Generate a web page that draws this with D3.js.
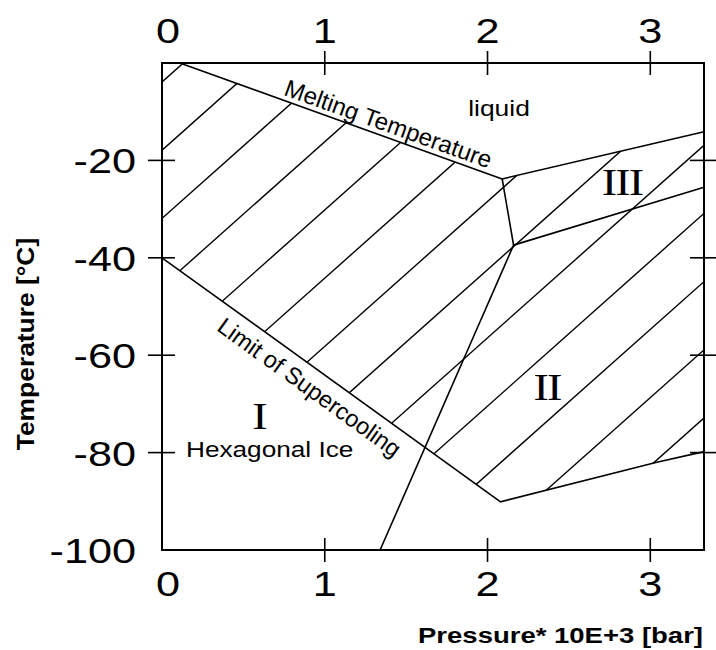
<!DOCTYPE html>
<html>
<head>
<meta charset="utf-8">
<script src="https://cdn.jsdelivr.net/npm/d3@7"></script>
<style>
  body { margin: 0; background: #fff; }
  text { font-family: "Liberation Sans", Arial, sans-serif; fill: #000; }
</style>
</head>
<body>
<div id="chart"></div>
<script>
var width = 716;
var height = 650;

// axis ticks
var xTicks = [0, 1, 2, 3];
var yTicks = [-20, -40, -60, -80, -100];
var xInnerTicks = [1, 2, 3];
var yInnerTicks = [-20, -40, -60, -80];

// phase boundaries, [pressure kbar, temperature C]
var meltingLine = [[0.11, 0], [2.09, -23.8]];
var liquidIII = [[2.09, -23.8], [3.33, -14.1]];
var lineIandIII = [[2.09, -23.8], [2.16, -37.4]];
var lineIIandIII = [[2.16, -37.4], [3.33, -25.5]];
var lineIandII = [[2.16, -37.4], [1.34, -100]];
var supercoolLine = [[0, -40], [2.08, -90.1], [3.04, -82.0], [3.33, -79.8]];

// hatched (metastable) area
var hatchArea = [[0, 0], [0.11, 0], [2.09, -23.8], [3.33, -14.1], [3.33, -79.8],
                 [3.04, -82.0], [2.08, -90.1], [0, -40]];
var hatchAnchor = [0, -3.9];

// ice phase names and where they sit
var phaseNames = ["I", "II", "III"];
var phasePos = [[0.596, -72.5], [2.365, -66.7], [2.826, -24.5]];

var x = d3.scaleLinear().domain([0, 3.33]).range([162, 704]);
var y = d3.scaleLinear().domain([-100, 0]).range([550, 63]);

var svg = d3.select("#chart")
  .append("svg")
  .attr("width", width)
  .attr("height", height);

var line = d3.line()
  .x(function(d) { return x(d[0]); })
  .y(function(d) { return y(d[1]); });

// text looks stretched sideways in the original
function wide(sel, px, py, s) {
  return sel.attr("transform", "translate(" + px + "," + py + ") scale(" + s + ",1)")
    .attr("x", 0).attr("y", 0);
}

// clip for hatching
svg.append("clipPath")
  .attr("id", "hatchClip")
  .append("path")
  .attr("d", line(hatchArea) + "Z");

var hatchSlope = 0.89;
var hatchStep = 68.2;
var hx0 = x(hatchAnchor[0]);
var hy0 = y(hatchAnchor[1]);
var hatch = [];
for (var k = -3; k < 18; k++) {
  hatch.push(k);
}

svg.append("g")
  .attr("clip-path", "url(#hatchClip)")
  .selectAll("line")
  .data(hatch)
  .enter()
  .append("line")
  .attr("x1", 150)
  .attr("y1", function(k) { return hy0 + k * hatchStep + hatchSlope * (hx0 - 150); })
  .attr("x2", 720)
  .attr("y2", function(k) { return hy0 + k * hatchStep - hatchSlope * (720 - hx0); })
  .style("stroke", "#000")
  .style("stroke-width", 1.4);

// boundaries
var bounds = [meltingLine, liquidIII, lineIandIII, lineIIandIII, lineIandII, supercoolLine];
svg.append("g")
  .selectAll("path")
  .data(bounds)
  .enter()
  .append("path")
  .attr("d", line)
  .style("fill", "none")
  .style("stroke", "#000")
  .style("stroke-width", 1.6);

// frame
svg.append("rect")
  .attr("x", x(0))
  .attr("y", y(0))
  .attr("width", x(3.33) - x(0))
  .attr("height", y(-100) - y(0))
  .style("fill", "none")
  .style("stroke", "#000")
  .style("stroke-width", 2);

// ticks crossing the frame
var tk = 12;
svg.append("g").selectAll("line")
  .data(xInnerTicks).enter().append("line")
  .attr("x1", function(d) { return x(d); })
  .attr("x2", function(d) { return x(d); })
  .attr("y1", y(0) - tk).attr("y2", y(0) + tk)
  .style("stroke", "#000").style("stroke-width", 1.6);
svg.append("g").selectAll("line")
  .data(xInnerTicks).enter().append("line")
  .attr("x1", function(d) { return x(d); })
  .attr("x2", function(d) { return x(d); })
  .attr("y1", y(-100) - tk).attr("y2", y(-100) + tk)
  .style("stroke", "#000").style("stroke-width", 1.6);
svg.append("g").selectAll("line")
  .data(yInnerTicks).enter().append("line")
  .attr("y1", function(d) { return y(d); })
  .attr("y2", function(d) { return y(d); })
  .attr("x1", x(0) - 14).attr("x2", x(0) + 13)
  .style("stroke", "#000").style("stroke-width", 1.6);
svg.append("g").selectAll("line")
  .data(yInnerTicks).enter().append("line")
  .attr("y1", function(d) { return y(d); })
  .attr("y2", function(d) { return y(d); })
  .attr("x1", x(3.33) - 14).attr("x2", x(3.33) + 13)
  .style("stroke", "#000").style("stroke-width", 1.6);

// tick labels
svg.append("g").selectAll("text")
  .data(xTicks).enter().append("text")
  .each(function(d) { wide(d3.select(this), x(d) + (d == 0 ? 6 : 0), 43, 1.2); })
  .attr("text-anchor", "middle")
  .attr("font-size", "36px")
  .text(function(d) { return d; });
svg.append("g").selectAll("text")
  .data(xTicks).enter().append("text")
  .each(function(d) { wide(d3.select(this), x(d) + (d == 0 ? 6 : 0), 596, 1.2); })
  .attr("text-anchor", "middle")
  .attr("font-size", "36px")
  .text(function(d) { return d; });
svg.append("g").selectAll("text")
  .data(yTicks).enter().append("text")
  .each(function(d) { wide(d3.select(this), 136, y(d) + 13, 1.2); })
  .attr("text-anchor", "end")
  .attr("font-size", "36px")
  .text(function(d) { return d; });

// axis titles
wide(svg.append("text"), 703, 643, 1.25)
  .attr("text-anchor", "end")
  .attr("font-size", "22px")
  .attr("font-weight", "bold")
  .text("Pressure* 10E+3 [bar]");
svg.append("text")
  .attr("transform", "translate(34,344) rotate(-90) scale(1.1,1)")
  .attr("text-anchor", "middle")
  .attr("font-size", "24px")
  .attr("font-weight", "bold")
  .text("Temperature [°C]");

// labels along lines
function alongLabel(seg, t, off, size, txt) {
  var p0 = [x(seg[0][0]), y(seg[0][1])];
  var p1 = [x(seg[1][0]), y(seg[1][1])];
  var ang = Math.atan2(p1[1] - p0[1], p1[0] - p0[0]);
  var px = p0[0] + t * (p1[0] - p0[0]) - off * Math.sin(ang);
  var py = p0[1] + t * (p1[1] - p0[1]) + off * Math.cos(ang);
  svg.append("text")
    .attr("transform", "translate(" + px + "," + py + ") rotate(" + (ang * 180 / Math.PI) + ")")
    .attr("text-anchor", "middle")
    .attr("font-size", size + "px")
    .text(txt);
}
alongLabel(meltingLine, 0.633, -5, 24, "Melting Temperature");
alongLabel([supercoolLine[0], supercoolLine[1]], 0.468, 27, 23.5, "Limit of Supercooling");

wide(svg.append("text"), 499, 116, 1.2)
  .attr("text-anchor", "middle")
  .attr("font-size", "22px")
  .text("liquid");
wide(svg.append("text"), 186, 457, 1.19)
  .attr("font-size", "22px")
  .text("Hexagonal Ice");

// roman numerals for ice phases, serifs run together like the original
svg.append("g").selectAll("text")
  .data(phaseNames).enter().append("text")
  .each(function(d, i) {
    wide(d3.select(this), x(phasePos[i][0]), y(phasePos[i][1]) + 12.5, 1.25);
  })
  .attr("text-anchor", "middle")
  .style("font-family", "'Liberation Serif', 'Times New Roman', serif")
  .style("font-size", "37px")
  .style("letter-spacing", "-1.5px")
  .text(function(d) { return d; });
</script>
</body>
</html>
